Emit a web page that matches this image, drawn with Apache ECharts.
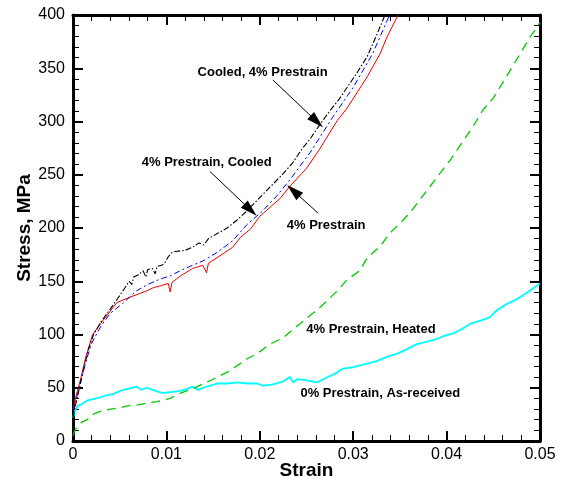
<!DOCTYPE html>
<html><head><meta charset="utf-8">
<script src="https://cdn.jsdelivr.net/npm/echarts@6/dist/echarts.min.js"></script>
<style>html,body{margin:0;padding:0;background:#fff}#c{width:563px;height:483px}</style>
</head><body><div id="c"></div>
<script>
const xTicks = [0, 0.01, 0.02, 0.03, 0.04, 0.05];
const yTicks = [0, 50, 100, 150, 200, 250, 300, 350, 400];

const cooled4 = [[0,22],[0.0003,35],[0.0007,50],[0.0012,70],[0.0017,87],[0.0022,100],[0.003,112],[0.004,124],[0.0048,134],[0.0055,143],[0.006,150],[0.0063,147],[0.0065,154],[0.007,156],[0.0075,160],[0.0078,154],[0.008,161],[0.0085,162],[0.0088,157],[0.009,164],[0.0095,165],[0.0098,167],[0.0102,173],[0.0106,177],[0.011,178],[0.012,179],[0.0128,182],[0.0135,186],[0.014,184],[0.0145,190],[0.0155,195],[0.0165,200],[0.0175,207],[0.0185,215],[0.0195,224],[0.0205,233],[0.0215,242],[0.0225,251],[0.0235,261],[0.0245,274],[0.0255,285],[0.0265,298],[0.0275,310],[0.0285,321],[0.0295,334],[0.0305,347],[0.0315,361],[0.0325,381],[0.0334,400]];

const prestrainCooled = [[0,28],[0.0005,45],[0.001,62],[0.0015,78],[0.002,92],[0.003,108],[0.004,120],[0.0053,129],[0.0068,141],[0.008,147],[0.0093,152],[0.0104,155],[0.0115,160],[0.0128,165],[0.0139,169],[0.0154,177],[0.0171,188],[0.0186,203],[0.0203,216],[0.0218,230],[0.0232,245],[0.0254,271],[0.0278,304],[0.03,332],[0.0321,364],[0.0339,400]];

const prestrain4 = [[0,30],[0.0002,38],[0.00075,56],[0.0014,80],[0.0021,100],[0.0032,113],[0.0047,130],[0.0061,135],[0.0079,141],[0.0086,144],[0.0095,146],[0.0102,148],[0.0104,140],[0.0106,149],[0.0115,155],[0.0128,162],[0.0139,165],[0.0143,158],[0.0145,167],[0.0154,172],[0.0171,182],[0.0179,191],[0.019,199],[0.02,211],[0.0222,228],[0.0232,239],[0.025,256],[0.0264,274],[0.0283,301],[0.0293,312],[0.0315,342],[0.0329,364],[0.0336,379],[0.0348,400]];

const heated4 = [[0,5],[0.0002,10],[0.0005,14],[0.001,18],[0.0015,20],[0.0021,25],[0.003,28],[0.004,30],[0.005,31],[0.0058,33],[0.007,34],[0.0082,36],[0.009,37],[0.0104,40],[0.0115,45],[0.0128,49],[0.014,54],[0.015,58],[0.0168,66],[0.0186,77],[0.0197,82],[0.0211,91],[0.0225,97],[0.024,108],[0.0254,118],[0.0264,125],[0.0283,141],[0.0293,151],[0.0307,160],[0.0315,172],[0.0329,183],[0.0339,195],[0.0353,207],[0.0364,218],[0.0377,233],[0.039,248],[0.0404,264],[0.0418,282],[0.0428,295],[0.0439,311],[0.045,322],[0.0457,332],[0.0468,348],[0.0479,364],[0.0489,379],[0.0497,389],[0.05,393]];

const asReceived = [[0,22],[0.0002,28],[0.0005,33],[0.001,35],[0.0015,38],[0.002,39],[0.0029,41],[0.0036,43],[0.0043,44],[0.005,47],[0.0058,49],[0.0068,51],[0.0073,48],[0.0079,50],[0.0088,47],[0.0096,45],[0.0105,46],[0.0115,47],[0.0122,49],[0.0128,51],[0.0134,48],[0.0139,50],[0.0147,52],[0.0154,54],[0.0165,54],[0.0176,55],[0.0187,54],[0.0197,54],[0.0203,52],[0.0213,53],[0.0225,56],[0.0232,60],[0.0236,55],[0.024,58],[0.025,57],[0.0261,55],[0.0268,58],[0.0275,61],[0.0282,64],[0.0289,68],[0.0298,69],[0.0307,71],[0.0316,73],[0.0325,75],[0.0336,79],[0.0347,82],[0.0357,86],[0.0368,91],[0.0378,93],[0.039,96],[0.0398,99],[0.0407,101],[0.0416,105],[0.0425,110],[0.0436,113],[0.0446,116],[0.0454,123],[0.0465,129],[0.0475,133],[0.0489,141],[0.05,148]];

const labelTexts = ['Cooled, 4% Prestrain','4% Prestrain, Cooled','4% Prestrain','4% Prestrain, Heated','0% Prestrain, As-received'];
const labelPos = [[0.0203,346],[0.01432,262],[0.0271,202],[0.0319,105],[0.0329,45]];
const arrowFrom = [[0.0214,339],[0.01467,253],[0.02623,214]];
const arrowTo = [[0.0261,300],[0.0190,217],[0.0236,235]];

const font = 'Liberation Sans, Arial, Helvetica, sans-serif';
const chart = echarts.init(document.getElementById('c'));

const axisCommon = (pos, isX) => ({
  type: 'value',
  position: pos,
  min: 0,
  max: isX ? xTicks[xTicks.length-1] : yTicks[yTicks.length-1],
  interval: isX ? xTicks[1]-xTicks[0] : yTicks[1]-yTicks[0],
  splitLine: {show: false},
  axisLine: {show: true, onZero: false, lineStyle: {color: '#000', width: 3}},
  axisTick: {show: true, inside: true, length: 10, lineStyle: {color: '#000', width: 2}},
  minorTick: {show: true, splitNumber: 5, length: 6, lineStyle: {color: '#000', width: 1}},
  minorSplitLine: {show: false}
});

const x0 = Object.assign(axisCommon('bottom', true), {
  name: 'Strain', nameLocation: 'middle', nameGap: 20, nameMoveOverlap: false,
  nameTextStyle: {fontFamily: font, fontSize: 19, fontWeight: 'bold', color: '#000'},
  axisLabel: {fontFamily: font, fontSize: 16, color: '#000', margin: 6,
    formatter: v => v === 0 ? '0' : String(Number(v.toFixed(3)))}
});
const x1 = Object.assign(axisCommon('top', true), {axisLabel: {show: false}});
const y0 = Object.assign(axisCommon('left', false), {
  name: 'Stress, MPa', nameLocation: 'middle', nameGap: 39, nameRotate: 90, nameMoveOverlap: false,
  nameTextStyle: {fontFamily: font, fontSize: 19, fontWeight: 'bold', color: '#000'},
  axisLabel: {fontFamily: font, fontSize: 16, color: '#000', margin: 8}
});
const y1 = Object.assign(axisCommon('right', false), {axisLabel: {show: false}});

function lineSeries(data, color, type, width) {
  return {type: 'line', data: data, xAxisIndex: 0, yAxisIndex: 0, showSymbol: false, symbol: 'none',
    animation: false, lineStyle: {color: color, type: type, width: width}, z: 3};
}

const series = [
  lineSeries(asReceived, '#00ffff', 'solid', 1.8),
  lineSeries(heated4, '#00cc00', [9, 6], 1.3),
  lineSeries(prestrain4, '#ee0000', 'solid', 1),
  lineSeries(prestrainCooled, '#0000ff', [6, 3, 2, 3], 1),
  lineSeries(cooled4, '#000000', [6, 2, 1.5, 2], 1.1),
  {
    type: 'scatter', xAxisIndex: 0, yAxisIndex: 0, animation: false, z: 5,
    data: labelPos.map((p, i) => [p[0], p[1], labelTexts[i]]),
    symbolSize: 1, itemStyle: {color: 'rgba(0,0,0,0)'},
    label: {show: true, position: 'inside', formatter: p => p.data[2],
      fontFamily: font, fontSize: 13, fontWeight: 'bold', color: '#000',
      textBorderWidth: 0, textBorderColor: 'transparent', opacity: 1},
    emphasis: {disabled: true},
    markLine: {
      silent: true, animation: false, symbol: ['none', 'triangle'], symbolSize: [10, 17],
      label: {show: false},
      lineStyle: {color: '#000', type: 'solid', width: 1},
      data: arrowFrom.map((f, i) => [{coord: f}, {coord: arrowTo[i]}])
    }
  }
];

chart.setOption({
  animation: false,
  backgroundColor: '#fff',
  grid: {left: 73, right: 23, top: 15, bottom: 42, containLabel: false, outerBoundsMode: 'none'},
  xAxis: [x0, x1],
  yAxis: [y0, y1],
  series: series
});
</script></body></html>
